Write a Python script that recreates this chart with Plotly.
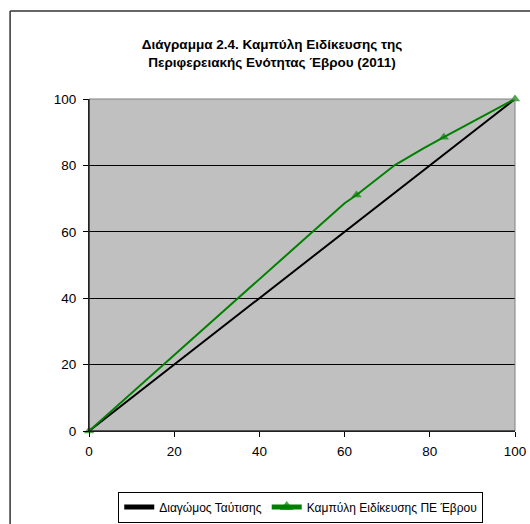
import plotly.graph_objects as go

# Data
diag_x = [0, 100]
diag_y = [0, 100]

curve_x = [0, 60.0, 62.8, 71.8, 78.5, 83.3, 100]
curve_y = [0, 68.6, 71.1, 80.1, 85.1, 88.5, 100]
curve_marker_sizes = [9, 0, 9, 0, 0, 9, 9]

x_ticks = [0, 20, 40, 60, 80, 100]
y_ticks = [0, 20, 40, 60, 80, 100]

title_text = "Διάγραμμα 2.4. Καμπύλη Ειδίκευσης της<br>Περιφερειακής Ενότητας Έβρου (2011)"
name_diag = "Διαγώμος Ταύτισης"
name_curve = "Καμπύλη Ειδίκευσης ΠΕ Έβρου"

FONT = "Liberation Sans, Arial, sans-serif"

W, H = 530, 524
# target plot area in window pixels: x 89..515.5, y 99..431
L = 89
T = 99
R = W - 515.5
B = H - 431
pw = W - L - R
ph = H - T - B

def px_x(px):
    return (px - L) / pw

def px_y(py):
    return (H - B - py) / ph

fig = go.Figure()
fig.add_trace(go.Scatter(
    x=diag_x, y=diag_y, mode="lines", name=name_diag,
    line=dict(color="black", width=2), cliponaxis=False,
))
fig.add_trace(go.Scatter(
    x=curve_x, y=curve_y, mode="lines+markers", name=name_curve,
    line=dict(color="#008000", width=2),
    marker=dict(symbol="triangle-up", size=curve_marker_sizes, color="#008000",
                line=dict(width=0)),
    cliponaxis=False,
))

fig.update_layout(
    width=W, height=H,
    margin=dict(l=L, r=R, t=T, b=B, pad=0, autoexpand=False),
    paper_bgcolor="white",
    plot_bgcolor="#C0C0C0",
    font=dict(family=FONT, size=13.5, color="black"),
    title=dict(
        text="<b>" + title_text + "</b>",
        font=dict(family=FONT, size=13.5, color="black"),
        x=272 / W, xref="container", xanchor="center",
        y=1 - 49 / H, yref="container", yanchor="middle",
    ),
    xaxis=dict(
        range=[0, 100], tickvals=x_ticks, ticks="outside", ticklen=5,
        tickcolor="black", showgrid=False, zeroline=False,
        showline=True, linecolor="black", linewidth=1, automargin=False,
        tickfont=dict(family=FONT, size=13.5), ticklabelstandoff=3,
    ),
    yaxis=dict(
        range=[0, 100], tickvals=y_ticks, ticks="outside", ticklen=5,
        tickcolor="black", showgrid=True, gridcolor="black", gridwidth=1,
        zeroline=False, showline=True, linecolor="black", linewidth=1,
        automargin=False,
        tickfont=dict(family=FONT, size=13.5), ticklabelstandoff=4,
    ),
    showlegend=True,
    legend=dict(
        orientation="h", x=px_x(301), xanchor="center",
        y=px_y(507), yanchor="middle",
        bordercolor="black", borderwidth=1, bgcolor="white",
        font=dict(family=FONT, size=12), itemsizing="constant",
        tracegroupgap=0,
    ),
    shapes=[
        dict(type="rect", xref="paper", yref="paper", x0=0, x1=1, y0=0, y1=1,
             line=dict(color="#808080", width=1), layer="above"),
        dict(type="line", xref="paper", yref="paper",
             x0=px_x(10), x1=px_x(10), y0=px_y(11), y1=px_y(540),
             line=dict(color="#333333", width=1.5)),
        dict(type="line", xref="paper", yref="paper",
             x0=px_x(10), x1=px_x(545), y0=px_y(11), y1=px_y(11),
             line=dict(color="#333333", width=1.5)),
    ],
)
# redraw axis lines on top of the gray border
fig.add_shape(type="line", xref="paper", yref="paper", x0=0, x1=0, y0=0, y1=1,
              line=dict(color="black", width=1), layer="above")
fig.add_shape(type="line", xref="paper", yref="paper", x0=0, x1=1, y0=0, y1=0,
              line=dict(color="black", width=1), layer="above")

fig.write_html(
    "out.html",
    config={"displayModeBar": False},
    post_script="document.body.style.margin='0';document.body.style.overflow='hidden';",
)
